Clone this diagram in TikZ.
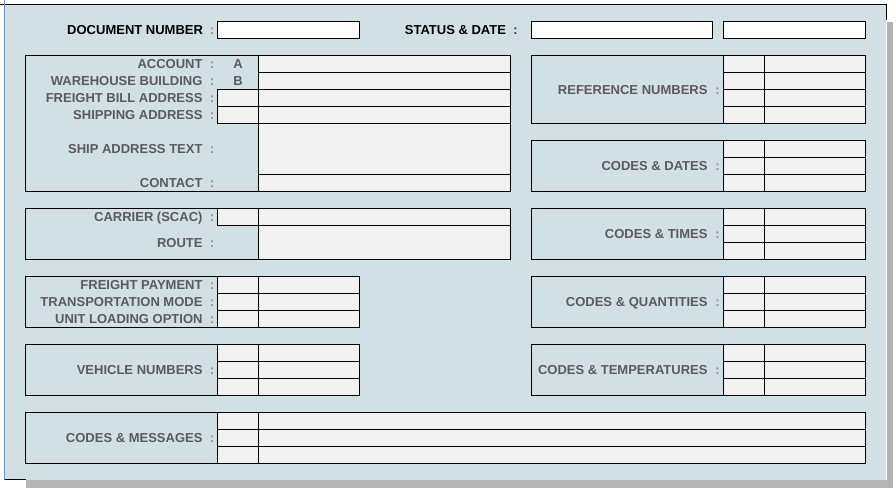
\documentclass[tikz,border=0pt]{standalone}
\usepackage{fontspec}
\setmainfont{Liberation Sans}
\definecolor{panel}{RGB}{209,224,228}
\definecolor{cellfill}{RGB}{242,242,242}
\definecolor{shadowgray}{RGB}{180,180,180}
\definecolor{lblgray}{RGB}{90,90,96}
\definecolor{colgray}{RGB}{140,140,146}
\definecolor{edgeblue}{RGB}{90,150,240}
\newcommand\fcell[5]{\node[cell,minimum width={(#3-#2)*1pt},minimum height={(#5-#4)*1pt}] (#1) at (#2,#4) {};}
\newcommand\fgroup[5]{\node[grp,minimum width={(#3-#2)*1pt},minimum height={(#5-#4)*1pt}] (#1) at (#2,#4) {};}
\newcommand\flabel[4]{\node[lbl] (#1) at (#2,#3+4.5) {#4};}
\newcommand\fcolon[3]{\node[colon] (#1) at (#2,#3+4.5) {:};}
\begin{document}
\begin{tikzpicture}[x=1pt,y=-1pt,
  every node/.style={inner sep=0pt,outer sep=0pt},
  cell/.style={draw=black,line width=1pt,fill=cellfill,anchor=north west,rectangle},
  hbox/.style={draw=black,line width=1pt,fill=white,anchor=north west,rectangle},
  grp/.style={draw=black,line width=1pt,fill=panel,anchor=north west,rectangle},
  lbl/.style={anchor=base east,text=lblgray,font=\fontsize{13}{15}\selectfont\bfseries},
  hlbl/.style={anchor=base east,text=black,font=\fontsize{13}{15}\selectfont\bfseries},
  colon/.style={anchor=base,text=colgray,font=\fontsize{13}{15}\selectfont\bfseries},
  letter/.style={anchor=base,text=lblgray,font=\fontsize{13}{15}\selectfont\bfseries}]
\useasboundingbox (0,0) rectangle (896,488);
\fill[white] (0,0) rectangle (896,488);
% shadow
\fill[shadowgray] (887,22) rectangle (893,488);
\fill[shadowgray] (26,480) rectangle (893,488);
% panel
\fill[panel] (5,5) rectangle (886,480);
\draw[line width=1pt] (0,4.5) -- (886.5,4.5) -- (886.5,20);
\draw[line width=1pt] (5,479.5) -- (26,479.5);
\draw[edgeblue,line width=1pt] (4.5,0) -- (4.5,480);

% header
\node[hlbl] (hdoc) at (203,34.5) {DOCUMENT NUMBER};
\fcolon{hdocc}{212}{30}
\node[hbox,minimum width=142pt,minimum height=17pt] (docbox) at (217.5,21.5) {};
\node[hlbl] (hstat) at (506,34.5) {STATUS \& DATE};
\node[colon,text=black!80] (hstatc) at (515.5,34.5) {:};
\node[hbox,minimum width=181pt,minimum height=17pt] (statbox) at (531.5,21.5) {};
\node[hbox,minimum width=142pt,minimum height=17pt] (datebox) at (723.5,21.5) {};

% ---------- left group 1
\fgroup{g1}{25.5}{510.5}{55.5}{191.5}
\fcell{g1r1}{258.5}{510.5}{55.5}{72.5}
\fcell{g1r2}{258.5}{510.5}{72.5}{89.5}
\fcell{g1r3a}{217.5}{258.5}{89.5}{106.5}
\fcell{g1r3b}{258.5}{510.5}{89.5}{106.5}
\fcell{g1r4a}{217.5}{258.5}{106.5}{123.5}
\fcell{g1r4b}{258.5}{510.5}{106.5}{123.5}
\fcell{g1r5}{258.5}{510.5}{123.5}{174.5}
\fcell{g1r6}{258.5}{510.5}{174.5}{191.5}
\flabel{l11}{202.5}{64}{ACCOUNT}
\flabel{l12}{202.5}{81}{WAREHOUSE BUILDING}
\flabel{l13}{202.5}{98}{FREIGHT BILL ADDRESS}
\flabel{l14}{202.5}{115}{SHIPPING ADDRESS}
\flabel{l15}{202.5}{149}{SHIP ADDRESS TEXT}
\flabel{l16}{202.5}{183}{CONTACT}
\fcolon{c11}{212}{64}
\fcolon{c12}{212}{81}
\fcolon{c13}{212}{98}
\fcolon{c14}{212}{115}
\fcolon{c15}{212}{149}
\fcolon{c16}{212}{183}
\node[letter] (la) at (238,68.5) {A};
\node[letter] (lb) at (238,85.5) {B};

% ---------- left group 2
\fgroup{g2}{25.5}{510.5}{208.5}{259.5}
\fcell{g2r1a}{217.5}{258.5}{208.5}{225.5}
\fcell{g2r1b}{258.5}{510.5}{208.5}{225.5}
\fcell{g2r2}{258.5}{510.5}{225.5}{259.5}
\flabel{l21}{202.5}{217}{CARRIER (SCAC)}
\flabel{l22}{202.5}{242.5}{ROUTE}
\fcolon{c21}{212}{217}
\fcolon{c22}{212}{242.5}

% ---------- left group 3
\fgroup{g3}{25.5}{359.5}{276.5}{327.5}
\foreach \i/\y in {1/276.5,2/293.5,3/310.5}{
  \fcell{g3r\i a}{217.5}{258.5}{\y}{\y+17}
  \fcell{g3r\i b}{258.5}{359.5}{\y}{\y+17}
}
\flabel{l31}{202.5}{285}{FREIGHT PAYMENT}
\flabel{l32}{202.5}{302}{TRANSPORTATION MODE}
\flabel{l33}{202.5}{319}{UNIT LOADING OPTION}
\fcolon{c31}{212}{285}
\fcolon{c32}{212}{302}
\fcolon{c33}{212}{319}

% ---------- left group 4
\fgroup{g4}{25.5}{359.5}{344.5}{395.5}
\foreach \i/\y in {1/344.5,2/361.5,3/378.5}{
  \fcell{g4r\i a}{217.5}{258.5}{\y}{\y+17}
  \fcell{g4r\i b}{258.5}{359.5}{\y}{\y+17}
}
\flabel{l41}{202.5}{370}{VEHICLE NUMBERS}
\fcolon{c41}{212}{370}

% ---------- bottom group 5
\fgroup{g5}{25.5}{865.5}{412.5}{463.5}
\foreach \i/\y in {1/412.5,2/429.5,3/446.5}{
  \fcell{g5r\i a}{217.5}{258.5}{\y}{\y+17}
  \fcell{g5r\i b}{258.5}{865.5}{\y}{\y+17}
}
\flabel{l51}{202.5}{438}{CODES \& MESSAGES}
\fcolon{c51}{212}{438}

% ---------- right groups
\fgroup{r1}{531.5}{865.5}{55.5}{123.5}
\foreach \i/\y in {1/55.5,2/72.5,3/89.5,4/106.5}{
  \fcell{r1r\i a}{723.5}{764.5}{\y}{\y+17}
  \fcell{r1r\i b}{764.5}{865.5}{\y}{\y+17}
}
\flabel{lr1}{707.5}{89.5}{REFERENCE NUMBERS}
\fcolon{cr1}{717.5}{89.5}

\fgroup{r2}{531.5}{865.5}{140.5}{191.5}
\foreach \i/\y in {1/140.5,2/157.5,3/174.5}{
  \fcell{r2r\i a}{723.5}{764.5}{\y}{\y+17}
  \fcell{r2r\i b}{764.5}{865.5}{\y}{\y+17}
}
\flabel{lr2}{707.5}{166}{CODES \& DATES}
\fcolon{cr2}{717.5}{166}

\fgroup{r3}{531.5}{865.5}{208.5}{259.5}
\foreach \i/\y in {1/208.5,2/225.5,3/242.5}{
  \fcell{r3r\i a}{723.5}{764.5}{\y}{\y+17}
  \fcell{r3r\i b}{764.5}{865.5}{\y}{\y+17}
}
\flabel{lr3}{707.5}{234}{CODES \& TIMES}
\fcolon{cr3}{717.5}{234}

\fgroup{r4}{531.5}{865.5}{276.5}{327.5}
\foreach \i/\y in {1/276.5,2/293.5,3/310.5}{
  \fcell{r4r\i a}{723.5}{764.5}{\y}{\y+17}
  \fcell{r4r\i b}{764.5}{865.5}{\y}{\y+17}
}
\flabel{lr4}{707.5}{302}{CODES \& QUANTITIES}
\fcolon{cr4}{717.5}{302}

\fgroup{r5}{531.5}{865.5}{344.5}{395.5}
\foreach \i/\y in {1/344.5,2/361.5,3/378.5}{
  \fcell{r5r\i a}{723.5}{764.5}{\y}{\y+17}
  \fcell{r5r\i b}{764.5}{865.5}{\y}{\y+17}
}
\flabel{lr5}{707.5}{370}{CODES \& TEMPERATURES}
\fcolon{cr5}{717.5}{370}
\end{tikzpicture}
\end{document}
